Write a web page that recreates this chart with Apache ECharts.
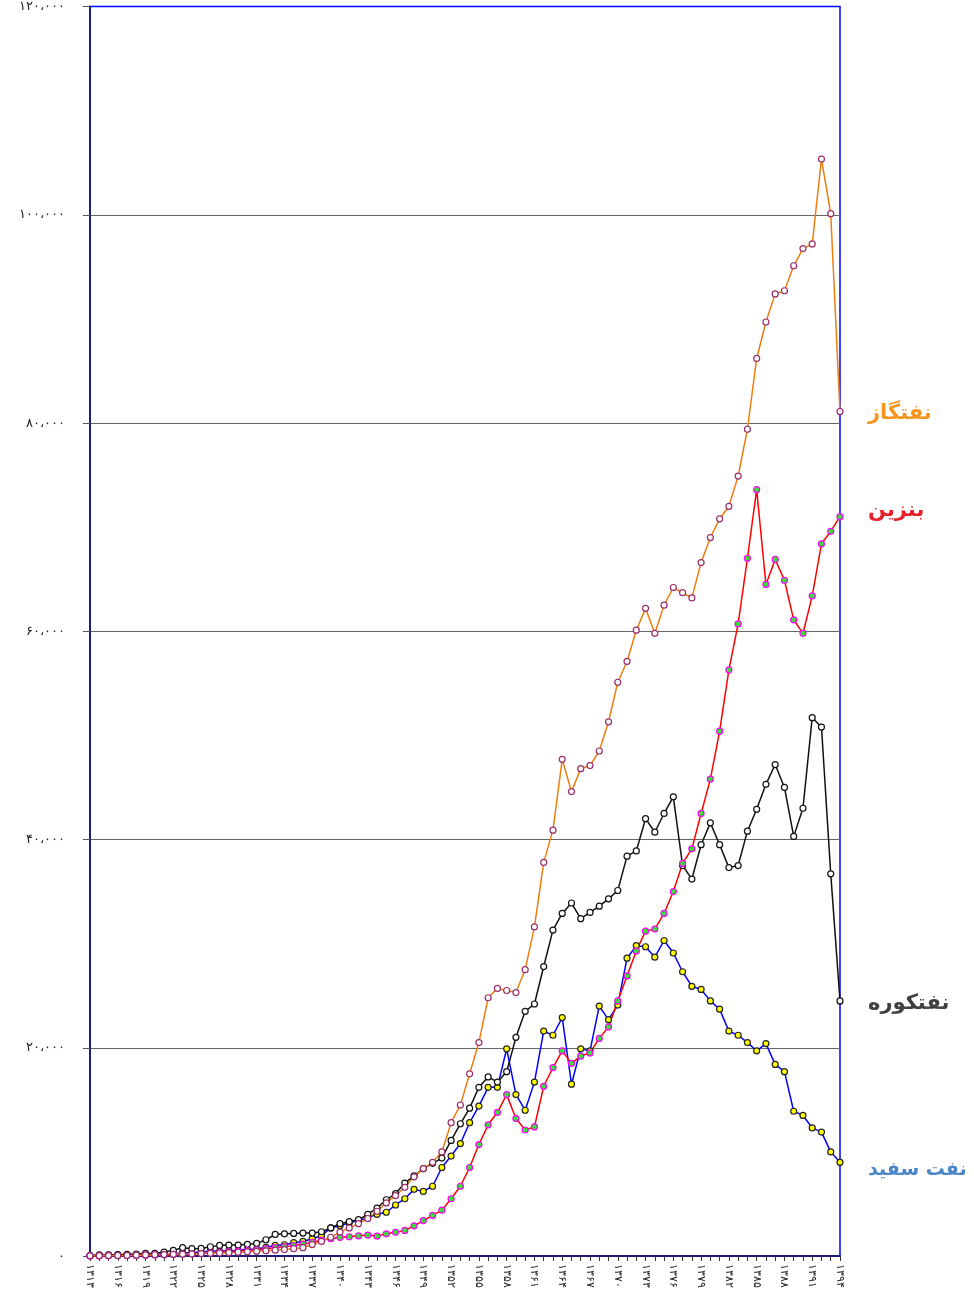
<!DOCTYPE html>
<html>
<head>
<meta charset="utf-8">
<script src="https://cdn.jsdelivr.net/npm/echarts@6/dist/echarts.min.js"></script>
<style>
  html, body { margin: 0; padding: 0; background: #fff; }
  #main { width: 974px; height: 1293px; }
</style>
</head>
<body>
<div id="main"></div>
<script>
// سال‌ها ۱۳۱۳ تا ۱۳۹۴
var years = [];
for (var y = 1313; y <= 1394; y++) years.push(String(y));

var seriesNames = ['نفتگاز', 'بنزین', 'نفتکوره', 'نفت سفید'];

// نفتگاز
var gasoil = [
  20, 30, 40, 50, 60, 80, 100, 120, 140, 160,
  180, 200, 230, 260, 290, 320, 360, 400, 450, 500,
  560, 620, 700, 800, 1100, 1400, 1800, 2300, 2700, 3100,
  3600, 4300, 5100, 5800, 6600, 7600, 8400, 9000, 10000, 12800,
  14500, 17500, 20500, 24800, 25700, 25500, 25300, 27500, 31600, 37800,
  40900, 47700, 44600, 46800, 47100, 48500, 51300, 55100, 57100, 60100,
  62200, 59800, 62500, 64200, 63700, 63200, 66600, 69000, 70800, 72000,
  74900, 79400, 86200, 89700, 92400, 92700, 95100, 96750, 97200, 105350,
  100100, 81100
];

// بنزین
var gasoline = [
  10, 20, 30, 40, 50, 60, 80, 100, 120, 150,
  180, 210, 250, 300, 350, 400, 460, 520, 600, 700,
  800, 900, 1000, 1150, 1300, 1530, 1660, 1790, 1850, 1940,
  2010, 1910, 2130, 2270, 2460, 2900, 3400, 3900, 4400, 5500,
  6700, 8500, 10700, 12600, 13800, 15500, 13200, 12100, 12400, 16300,
  18100, 19700, 18500, 19200, 19500, 20900, 22000, 24500, 26900, 29300,
  31200, 31400, 32900, 35000, 37700, 39100, 42500, 45800, 50400, 56300,
  60700, 67000, 73600, 64500, 66900, 64900, 61100, 59800, 63400, 68400,
  69600, 71000
];

// نفتکوره
var fuelOil = [
  30, 100, 100, 130, 160, 190, 250, 250, 380, 540,
  800, 700, 730, 890, 1020, 1050, 1050, 1120, 1210, 1560,
  2070, 2130, 2170, 2200, 2200, 2330, 2700, 3100, 3300, 3500,
  4000, 4600, 5400, 6000, 7000, 7700, 8400, 8900, 9400, 11100,
  12700, 14200, 16200, 17200, 16700, 17700, 21000, 23500, 24200, 27800,
  31300, 32900, 33900, 32400, 33000, 33600, 34300, 35100, 38400, 38900,
  42000, 40700, 42500, 44100, 37500, 36200, 39500, 41600, 39500, 37300,
  37500, 40800, 42900, 45300, 47200, 45000, 40300, 43000, 51700, 50800,
  36700, 24500
];

// نفت سفید
var kerosene = [
  30, 60, 80, 100, 120, 140, 160, 170, 180, 190,
  320, 320, 380, 450, 480, 510, 540, 640, 670, 830,
  1020, 1080, 1280, 1400, 1660, 1950, 2700, 2900, 3200, 3400,
  3700, 4000, 4200, 4900, 5500, 6400, 6200, 6700, 8500, 9600,
  10800, 12800, 14400, 16200, 16200, 19900, 15500, 14000, 16700, 21600,
  21200, 22900, 16500, 19900, 19700, 24000, 22700, 24100, 28600, 29800,
  29700, 28700, 30300, 29100, 27300, 25900, 25600, 24500, 23700, 21600,
  21200, 20500, 19700, 20400, 18400, 17700, 13900, 13500, 12300, 11900,
  10000, 9000
];

var faDigits = '۰۱۲۳۴۵۶۷۸۹';
function toFa(s) {
  return String(s).replace(/[0-9]/g, function (d) { return faDigits[+d]; });
}
function faNumber(v) {
  var s = String(v).replace(/\B(?=(\d{3})+(?!\d))/g, '،');
  return toFa(s);
}

var myChart = echarts.init(document.getElementById('main'), null, { renderer: 'canvas' });

function makeSeries(name, data, lineColor, fill, border, labelColor, dy, fs) {
  return {
    name: name,
    type: 'line',
    data: data,
    symbol: 'circle',
    symbolSize: 6,
    showAllSymbol: true,
    lineStyle: { color: lineColor, width: 1.5 },
    itemStyle: { color: fill, borderColor: border, borderWidth: 1.2 },
    emphasis: { disabled: true },
    endLabel: {
      show: true,
      formatter: name,
      distance: 28,
      offset: [0, dy],
      color: labelColor,
      fontSize: fs,
      fontWeight: 'bold',
      fontFamily: 'DejaVu Sans'
    }
  };
}

option = {
  animation: false,
  backgroundColor: '#fff',
  grid: {
    left: 90,
    right: 134,
    top: 0,
    bottom: 37,
    show: true,
    borderColor: '#0000ff',
    borderWidth: 1.5
  },
  xAxis: {
    type: 'category',
    data: years,
    boundaryGap: false,
    axisLine: { lineStyle: { color: '#1c1c7a', width: 2 } },
    axisTick: { show: true, interval: 0, length: 5, lineStyle: { color: '#333' } },
    axisLabel: {
      interval: 2,
      rotate: -90,
      fontSize: 11,
      color: '#222',
      margin: 8,
      formatter: function (v) { return toFa(v); }
    },
    splitLine: { show: false }
  },
  yAxis: {
    type: 'value',
    min: 0,
    max: 120000,
    interval: 20000,
    axisLine: { show: true, lineStyle: { color: '#1c1c7a', width: 2 } },
    axisTick: { show: true, length: 7, lineStyle: { color: '#555' } },
    axisLabel: {
      fontSize: 13,
      color: '#222',
      margin: 25,
      formatter: function (v) { return faNumber(v); }
    },
    splitLine: { showMaxLine: false, lineStyle: { color: '#666', width: 1 } }
  },
  series: [
    makeSeries(seriesNames[3], kerosene, '#0000ff', '#ffff00', '#222', '#4a86c8', 8, 19),
    makeSeries(seriesNames[2], fuelOil, '#111', '#fff', '#111', '#404040', 3, 21),
    makeSeries(seriesNames[1], gasoline, '#ff0000', '#33e033', '#ff00ff', '#e8202a', -6, 21),
    makeSeries(seriesNames[0], gasoil, '#ee7d10', '#fff', '#9b2f6a', '#f7941d', 2, 21)
  ]
};

myChart.setOption(option);
</script>
</body>
</html>
